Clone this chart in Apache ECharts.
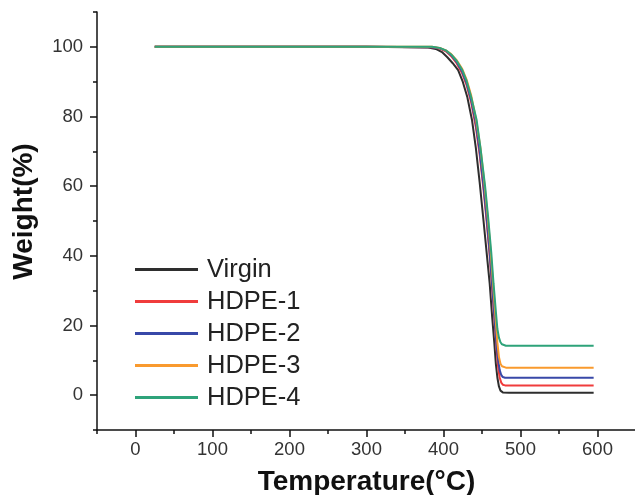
<!DOCTYPE html>
<html>
<head>
<meta charset="utf-8">
<script src="https://cdn.jsdelivr.net/npm/echarts@6/dist/echarts.min.js"></script>
<style>html,body{margin:0;padding:0;background:#fff}#c{width:635px;height:495px}</style>
</head>
<body>
<div id="c"></div>
<script>
const seriesNames = ['Virgin', 'HDPE-1', 'HDPE-2', 'HDPE-3', 'HDPE-4'];
const seriesColors = ['#2e2e2e', '#f03c3c', '#3848a8', '#f99a2e', '#2ea37a'];

const tempVirgin = [25, 100, 200, 300, 380, 390, 398, 405, 412, 419, 425, 431, 437, 442, 447, 452, 456, 460, 463, 466, 468, 470, 472, 474, 477, 485, 595];
const wVirgin    = [100, 100, 100, 100, 99.8, 99.4, 98.5, 97, 95.3, 93.3, 90, 85.5, 79, 71, 61, 50, 41, 32, 23, 15, 9, 5, 2.5, 1.3, 0.8, 0.7, 0.7];

const tempHdpe1 = [25, 100, 200, 300, 385, 395, 403, 410, 417, 424, 430, 436, 442, 447, 452, 456, 460, 463, 466, 469, 471, 473, 475, 477, 480, 487, 595];
const wHdpe1    = [100, 100, 100, 100, 99.9, 99.5, 98.7, 97.3, 95.3, 92.5, 89, 84, 77, 69, 59, 50, 40, 31, 22, 13, 8, 5, 3.6, 3.0, 2.8, 2.8, 2.8];

const tempHdpe2 = [25, 100, 200, 300, 385, 395, 403, 410, 417, 424, 430, 436, 442, 447, 452, 456, 460, 463, 466, 469, 471, 473, 475, 477, 480, 487, 595];
const wHdpe2    = [100, 100, 100, 100, 99.9, 99.6, 98.9, 97.6, 95.7, 93, 89.6, 84.7, 78, 70, 60, 51, 41, 32, 23, 14, 10, 7.2, 5.8, 5.2, 5.0, 5.0, 5.0];

const tempHdpe3 = [25, 100, 200, 300, 385, 395, 403, 410, 417, 424, 430, 436, 442, 448, 453, 457, 461, 464, 467, 470, 472, 474, 476, 478, 481, 488, 595];
const wHdpe3    = [100, 100, 100, 100, 100, 99.7, 99, 97.9, 96.2, 93.8, 90.6, 86, 79.5, 71, 61, 52, 42, 33, 24, 15, 11, 9, 8.3, 8.0, 7.9, 7.9, 7.9];

const tempHdpe4 = [25, 100, 200, 300, 385, 395, 403, 410, 417, 424, 430, 436, 443, 448, 454, 458, 462, 465, 468, 470, 472, 474, 476, 478, 481, 488, 595];
const wHdpe4    = [100, 100, 100, 100, 100, 99.7, 99, 97.8, 96, 93.5, 90.2, 85.5, 79, 71, 60, 51, 41, 32, 24, 19, 16.5, 15.2, 14.6, 14.3, 14.2, 14.2, 14.2];

const xMajorTicks = [0, 100, 200, 300, 400, 500, 600];
const xMinorTicks = [-50, 50, 150, 250, 350, 450, 550];
const yMajorTicks = [0, 20, 40, 60, 80, 100];
const yMinorTicks = [-10, 10, 30, 50, 70, 90, 110];

const temps = [tempVirgin, tempHdpe1, tempHdpe2, tempHdpe3, tempHdpe4];
const weights = [wVirgin, wHdpe1, wHdpe2, wHdpe3, wHdpe4];

const FONT = '"Liberation Sans", Arial, sans-serif';
const chart = echarts.init(document.getElementById('c'), null, {renderer: 'canvas'});

const axisLineStyle = {color: '#111', width: 1.5};

chart.setOption({
  animation: false,
  backgroundColor: '#fff',
  grid: {left: 97, top: 12, width: 539, height: 418, containLabel: false, outerBoundsMode: 'none'},
  legend: {
    orient: 'vertical',
    left: 135,
    top: 256.5,
    padding: 0,
    itemGap: 6,
    icon: 'rect',
    itemWidth: 63,
    itemHeight: 3,
    data: seriesNames,
    textStyle: {fontFamily: FONT, fontSize: 25.5, color: '#222', lineHeight: 25.5, padding: [0, 0, 0, 4]}
  },
  xAxis: [{
    type: 'value', min: -50, max: 650,
    name: 'Temperature(°C)', nameLocation: 'middle', nameGap: 38,
    nameTextStyle: {fontFamily: FONT, fontSize: 28, fontWeight: 'bold', color: '#111'},
    axisLine: {show: true, onZero: false, lineStyle: axisLineStyle},
    axisTick: {show: true, inside: false, length: 7, lineStyle: axisLineStyle, customValues: xMajorTicks},
    axisLabel: {customValues: xMajorTicks, margin: 10, fontFamily: FONT, fontSize: 18.5, color: '#333'},
    splitLine: {show: false}
  }, {
    type: 'value', min: -50, max: 650, position: 'bottom',
    axisLine: {show: false, onZero: false},
    axisTick: {show: true, inside: false, length: 4, lineStyle: axisLineStyle, customValues: xMinorTicks},
    axisLabel: {show: false},
    splitLine: {show: false}
  }],
  yAxis: [{
    type: 'value', min: -10, max: 110,
    name: 'Weight(%)', nameLocation: 'middle', nameGap: 59, nameRotate: 90,
    nameTextStyle: {fontFamily: FONT, fontSize: 28, fontWeight: 'bold', color: '#111', padding: [0, 0, 0, 19]},
    axisLine: {show: true, onZero: false, lineStyle: axisLineStyle},
    axisTick: {show: true, inside: false, length: 7, lineStyle: axisLineStyle, customValues: yMajorTicks},
    axisLabel: {customValues: yMajorTicks, margin: 14, fontFamily: FONT, fontSize: 18.5, color: '#333'},
    splitLine: {show: false}
  }, {
    type: 'value', min: -10, max: 110, position: 'left',
    axisLine: {show: false, onZero: false},
    axisTick: {show: true, inside: false, length: 4, lineStyle: axisLineStyle, customValues: yMinorTicks},
    axisLabel: {show: false},
    splitLine: {show: false}
  }],
  series: seriesNames.map((name, i) => ({
    name: name,
    type: 'line',
    xAxisIndex: 0,
    yAxisIndex: 0,
    symbol: 'none',
    showSymbol: false,
    smooth: false,
    color: seriesColors[i],
    lineStyle: {width: 2, color: seriesColors[i]},
    data: temps[i].map((t, j) => [t, weights[i][j]])
  }))
});
</script>
</body>
</html>
